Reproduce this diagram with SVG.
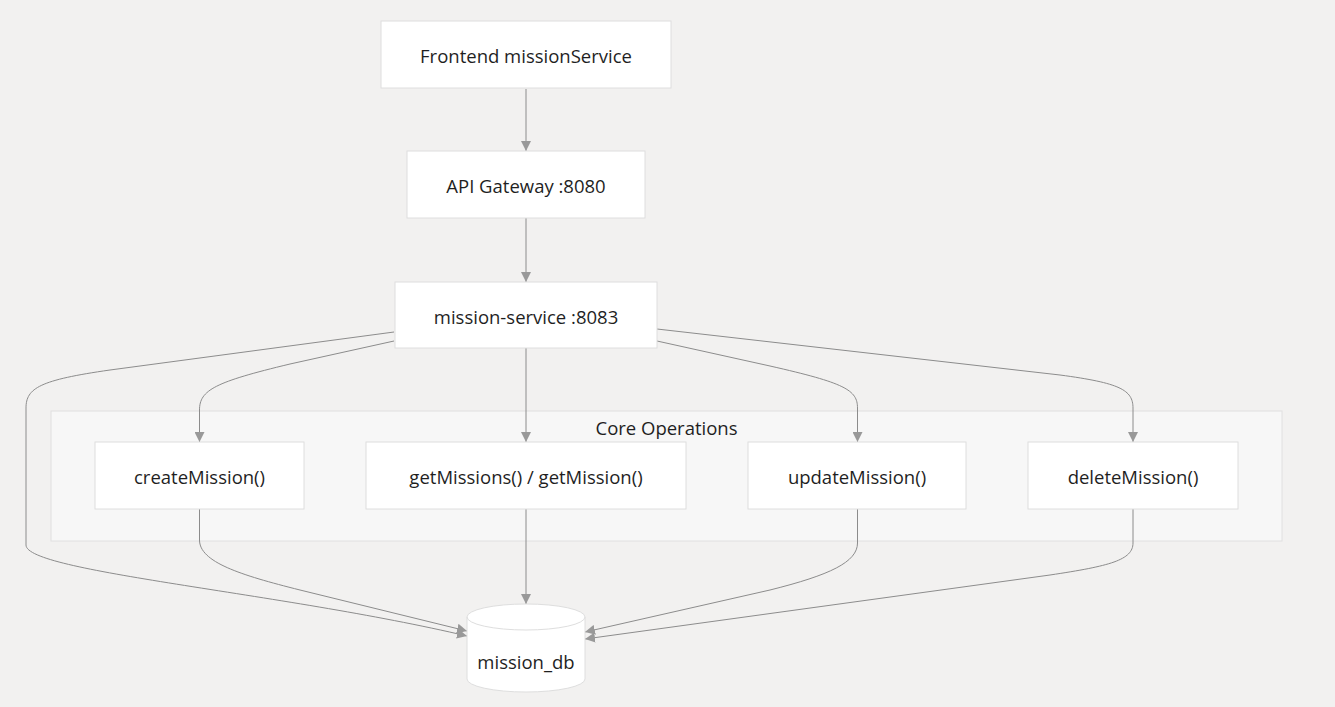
<svg xmlns="http://www.w3.org/2000/svg" width="1335" height="707" viewBox="0 0 1335 707">
<style>
.bg{fill:#f2f1f0}
.node rect,.node path{fill:#ffffff;stroke:#dedede;stroke-width:1}
.cluster rect{fill:#f7f7f7;stroke:#e0e0e0;stroke-width:1}
text{font-family:"Open Sans","Noto Sans","Liberation Sans",sans-serif;font-size:18.5px;fill:#1f1f1f;text-anchor:middle;dominant-baseline:central}
.edges path{fill:none;stroke:#8c8c8c;stroke-width:1;marker-end:url(#arrow)}
</style>
<defs>
<marker id="arrow" viewBox="0 0 10 10" refX="10" refY="5" markerWidth="10" markerHeight="10" markerUnits="userSpaceOnUse" orient="auto">
<path d="M0,0 L10,5 L0,10 z" fill="#999"/>
</marker>
</defs>
<rect class="bg" x="0" y="0" width="1335" height="707"/>
<g id="cluster-core" class="cluster">
<rect x="51" y="411" width="1231" height="130"/>
<text x="666.5" y="427">Core Operations</text>
</g>
<g class="edges">
<path d="M526,89 L526,151"/>
<path d="M526,218 L526,282"/>
<path d="M394,332 L110,370 C40,380 26,388 26,408 L26,545 C26,572 280,592 467,636"/>
<path d="M394,341 L290,364 C215,382 199.5,390 199.5,410 L199.5,442"/>
<path d="M526,348 L526,442"/>
<path d="M657,341 L770,366 C845,383 857.5,390 857.5,408 L857.5,442"/>
<path d="M657,329 L1060,375 C1120,383 1133,390 1133,408 L1133,442"/>
<path d="M199.5,509 L199.5,540 C199.5,562 240,575 300,590 L467,631"/>
<path d="M526,509 L526,604"/>
<path d="M857.5,509 L857.5,543 C857.5,562 830,575 770,590 L585,632"/>
<path d="M1133,509 L1133,543 C1133,560 1110,566 1050,575 L585,639"/>
</g>
<g id="frontend" class="node">
<rect x="381" y="21" width="290" height="67"/>
<text x="526" y="55">Frontend missionService</text>
</g>
<g id="gateway" class="node">
<rect x="407" y="151" width="238" height="67"/>
<text x="526" y="185">API Gateway :8080</text>
</g>
<g id="mission-service" class="node">
<rect x="395" y="282" width="262" height="66"/>
<text x="526" y="316">mission-service :8083</text>
</g>
<g id="createMission" class="node">
<rect x="95" y="442" width="209" height="67"/>
<text x="199.5" y="476">createMission()</text>
</g>
<g id="getMissions" class="node">
<rect x="366" y="442" width="320" height="67"/>
<text x="526" y="476">getMissions() / getMission()</text>
</g>
<g id="updateMission" class="node">
<rect x="748" y="442" width="218" height="67"/>
<text x="857" y="476">updateMission()</text>
</g>
<g id="deleteMission" class="node">
<rect x="1028" y="442" width="210" height="67"/>
<text x="1133" y="476">deleteMission()</text>
</g>
<g id="mission_db" class="node">
<path d="M467,617 a59,13 0 0,0 118,0 a59,13 0 0,0 -118,0 l0,62 a59,13 0 0,0 118,0 l0,-62"/>
<text x="526" y="661">mission_db</text>
</g>
</svg>
